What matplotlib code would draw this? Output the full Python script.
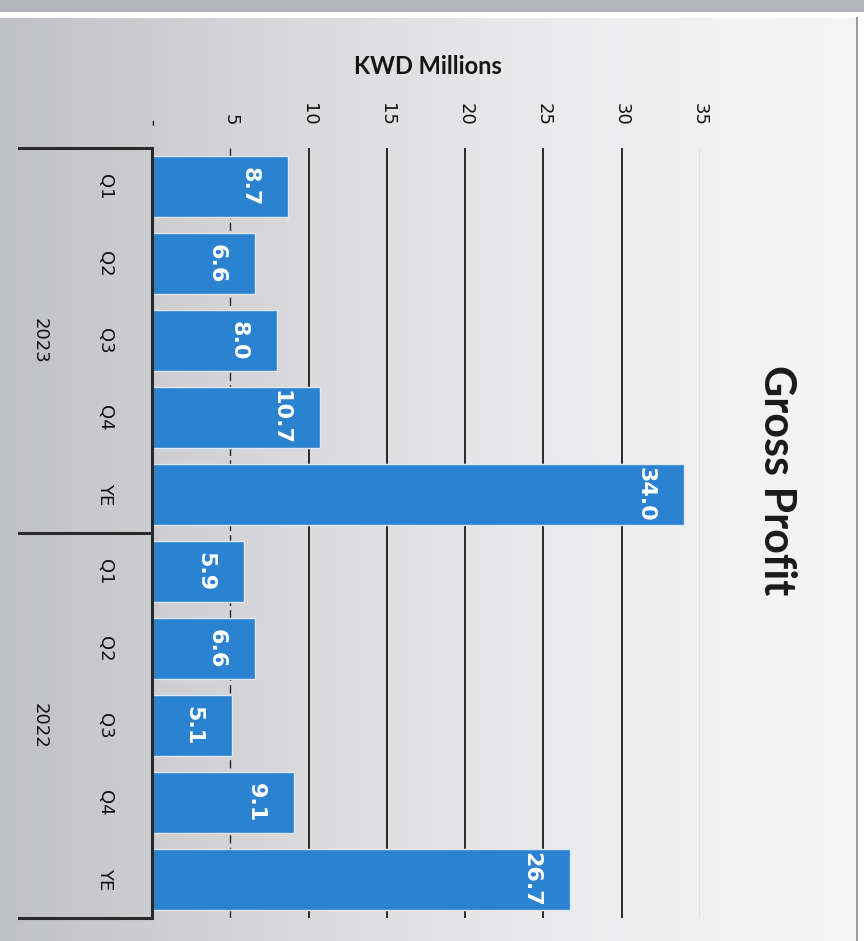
import numpy as np
import matplotlib
matplotlib.use("Agg")
import matplotlib.pyplot as plt
from matplotlib.transforms import blended_transform_factory
from matplotlib.patches import Rectangle

# data (KWD millions)
categories = ["Q1", "Q2", "Q3", "Q4", "YE", "Q1", "Q2", "Q3", "Q4", "YE"]
years = ["2023", "2022"]
values = [8.7, 6.6, 8.0, 10.7, 34.0, 5.9, 6.6, 5.1, 9.1, 26.7]
value_ticks = [0, 5, 10, 15, 20, 25, 30, 35]
value_tick_labels = ["-", "5", "10", "15", "20", "25", "30", "35"]

bar_color = "#2b82d0"
dark = "#2a2a2a"

W, H = 864, 941
fig = plt.figure(figsize=(W / 100, H / 100), dpi=100)
fig.patch.set_facecolor("white")

# scanned-page look: grey gradient background
bg = fig.add_axes([0, 0, 857 / W, (H - 18) / H], zorder=-10)
grad = np.linspace(0.0, 1.0, 256).reshape(1, -1)
bg.imshow(grad, cmap=matplotlib.colors.LinearSegmentedColormap.from_list(
    "bg", ["#c0c1c4", "#d9d9dc", "#ececee", "#f6f6f6"]), aspect="auto",
    extent=[0, 1, 0, 1])
bg.set_xlim(0, 1)
bg.set_ylim(0, 1)
bg.axis("off")
fig.patches.append(Rectangle((0, 1 - 12 / H), 1, 12 / H, transform=fig.transFigure,
                             facecolor="#b4b5b8", edgecolor="none", zorder=-5))
fig.lines.append(plt.Line2D([857 / W, 857 / W], [0, 1 - 18 / H], transform=fig.transFigure,
                            color="#9a9ca0", lw=1.5))

ax = fig.add_axes([152 / W, 1 - 918 / H, 548 / W, 770 / H])
ax.set_facecolor("none")
pos = np.arange(len(values))
bars = ax.barh(pos, values, height=0.78, color=bar_color, edgecolor="#dfe7f0", linewidth=1.0, zorder=3)
ax.set_xlim(0, 35)
ax.set_ylim(9.5, -0.5)

ax.xaxis.tick_top()
ax.set_xticks(value_ticks)
ax.set_xticklabels(value_tick_labels, rotation=-90, fontsize=13, color="#111111")
ax.tick_params(axis="x", length=0, pad=16)
ax.set_yticks(pos)
ax.set_yticklabels(categories, rotation=-90, fontsize=13, color="#111111",
                   ha="center", va="center")
ax.tick_params(axis="y", length=0, pad=34)

ax.grid(axis="x", color=dark, lw=1.4, zorder=1)
ax.set_axisbelow(True)
gl = ax.get_xgridlines()
gl[0].set_visible(False)
gl[1].set_linestyle((0, (6, 3)))
gl[1].set_linewidth(1.0)
gl[-1].set_color("#a8aab0")
gl[-1].set_linewidth(1.0)

for s in ["top", "right", "bottom"]:
    ax.spines[s].set_visible(False)
ax.spines["left"].set_color(dark)
ax.spines["left"].set_linewidth(2.2)
ax.spines["left"].set_zorder(5)

# value labels inside the bar end
for b, v in zip(bars, values):
    ax.annotate(f"{v:.1f}", (v, b.get_y() + b.get_height() / 2), xytext=(-28, 0),
                textcoords="offset points", rotation=-90, ha="center", va="center",
                color="white", fontsize=16, fontweight="bold", zorder=6)

# year grouping brackets
tr = blended_transform_factory(ax.transAxes, ax.transData)
for y in [-0.5, 4.5, 9.5]:
    ax.plot([-0.243, 0], [y, y], transform=tr, clip_on=False, color=dark, lw=2.2, zorder=5)
for i, yr in enumerate(years):
    ax.text(-0.205, 2 + 5 * i, yr, transform=tr, rotation=-90, ha="center", va="center",
            fontsize=13, color="#111111")

fig.text(428 / W, 1 - 66 / H, "KWD Millions", ha="center", va="center",
         fontsize=17, fontweight="bold", family=["Lato", "DejaVu Sans"], color="#151515")
fig.text(777 / W, 1 - 480 / H, "Gross Profit", ha="center", va="center", rotation=-90,
         fontsize=31, fontweight="bold", family=["Lato", "DejaVu Sans"], color="#1a1a1a")

fig.savefig("out.png", dpi=100)
